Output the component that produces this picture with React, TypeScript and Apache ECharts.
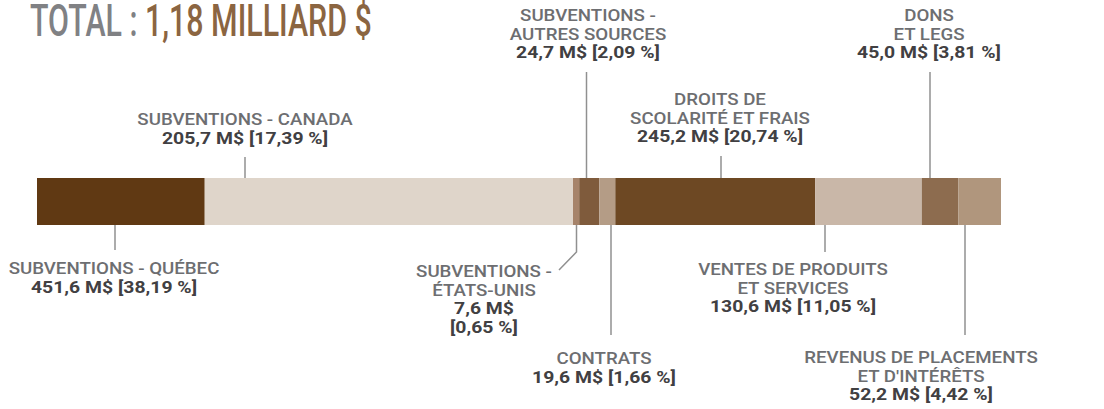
import React, { useEffect, useRef } from "react";
import * as echarts from "echarts";

// Segments in the order they appear along the bar
const categories = [
  "SUBVENTIONS - CANADA",
  "SUBVENTIONS - QUÉBEC",
  "SUBVENTIONS - ÉTATS-UNIS",
  "SUBVENTIONS - AUTRES SOURCES",
  "CONTRATS",
  "DROITS DE SCOLARITÉ ET FRAIS",
  "VENTES DE PRODUITS ET SERVICES",
  "DONS ET LEGS",
  "REVENUS DE PLACEMENTS ET D'INTÉRÊTS",
];
const values = [205.7, 451.6, 7.6, 24.7, 19.6, 245.2, 130.6, 45.0, 52.2];
const percents = ["17,39", "38,19", "0,65", "2,09", "1,66", "20,74", "11,05", "3,81", "4,42"];
const colors = ["#603913", "#dfd5ca", "#a6836a", "#7f5b3c", "#b49c86", "#6d4823", "#c9b7a8", "#8d6c4f", "#b0967d"];
const totalLabel = ["TOTAL :", "1,18 MILLIARD $"];

const fmt = (v: number) => v.toFixed(1).replace(".", ",");

const NAME_FONT = '500 17px Roboto';
const VAL_FONT = 'bold 17px Roboto';
const NAME_COLOR = "#6d6e71";
const VAL_COLOR = "#414042";
const LINE_COLOR = "#909090";

export default function App() {
  const ref = useRef<HTMLDivElement>(null);
  useEffect(() => {
    const chart = echarts.init(ref.current!, null, { renderer: "svg" });
    const total = values.reduce((a, b) => a + b, 0);
    const valLine = (i: number) => `${fmt(values[i])} M$ [${percents[i]} %]`;

    const graphics: any[] = [];
    const label = (cx: number, cy: number, nameLines: string[], valLines: string[]) => {
      let y = cy;
      const push = (t: string, font: string, fill: string, sx: number) => {
        graphics.push({
          type: "text", x: cx, y, scaleX: sx,
          style: { text: t, font, fill, lineHeight: 17, textAlign: "center", textVerticalAlign: "middle" },
        });
        y += 18.5;
      };
      nameLines.forEach((t) => push(t, NAME_FONT, NAME_COLOR, 1.1));
      valLines.forEach((t) => push(t, VAL_FONT, VAL_COLOR, 1.14));
    };
    const leader = (pts: number[][]) => {
      graphics.push({
        type: "polyline",
        shape: { points: pts },
        style: { stroke: LINE_COLOR, lineWidth: 1.5, fill: null },
      });
    };

    // Title
    graphics.push({
      type: "text", x: 30, y: 20.5, scaleX: 0.69,
      style: {
        text: `{a|${totalLabel[0]}} {b|${totalLabel[1]}}`,
        font: "500 44px Roboto",
        textVerticalAlign: "middle",
        rich: {
          a: { fill: "#808184", font: "500 44px Roboto", lineHeight: 44 },
          b: { fill: "#8b6541", font: "500 44px Roboto", lineHeight: 44 },
        },
      },
    });

    // Labels (names split as in the reference)
    label(114, 268, ["SUBVENTIONS - QUÉBEC"], [valLine(1)]);
    leader([[115, 225], [115, 250]]);

    label(245, 119, ["SUBVENTIONS - CANADA"], [valLine(0)]);
    leader([[245, 157], [245, 178]]);

    label(588, 15, ["SUBVENTIONS -", "AUTRES SOURCES"], [valLine(3)]);
    leader([[586.5, 72], [586.5, 178]]);

    label(484, 271, ["SUBVENTIONS -", "ÉTATS-UNIS"], [`${fmt(values[2])} M$`, `[${percents[2]} %]`]);
    leader([[576.5, 225], [576.5, 252], [559, 270]]);

    label(604, 358, ["CONTRATS"], [valLine(4)]);
    leader([[611, 225], [611, 335]]);

    label(720, 99, ["DROITS DE", "SCOLARITÉ ET FRAIS"], [valLine(5)]);
    leader([[721, 156], [721, 178]]);

    label(793, 269, ["VENTES DE PRODUITS", "ET SERVICES"], [valLine(6)]);
    leader([[825, 225], [825, 252]]);

    label(929, 15, ["DONS", "ET LEGS"], [valLine(7)]);
    leader([[930, 72], [930, 178]]);

    label(921, 357, ["REVENUS DE PLACEMENTS", "ET D'INTÉRÊTS"], [valLine(8)]);
    leader([[965, 225], [965, 335]]);

    chart.setOption({
      animation: false,
      grid: { left: 37, right: 103, top: 178, height: 47 },
      xAxis: { type: "value", min: 0, max: total, show: false },
      yAxis: { type: "category", data: [""], show: false },
      series: categories.map((c, i) => ({
        name: c,
        type: "bar",
        stack: "total",
        barWidth: "100%",
        data: [values[i]],
        itemStyle: { color: colors[i] },
        silent: true,
      })),
      graphic: graphics,
    });
    return () => chart.dispose();
  }, []);
  return <div ref={ref} style={{ position: "fixed", left: 0, top: 0, width: 1104, height: 409, background: "#fff" }} />;
}
